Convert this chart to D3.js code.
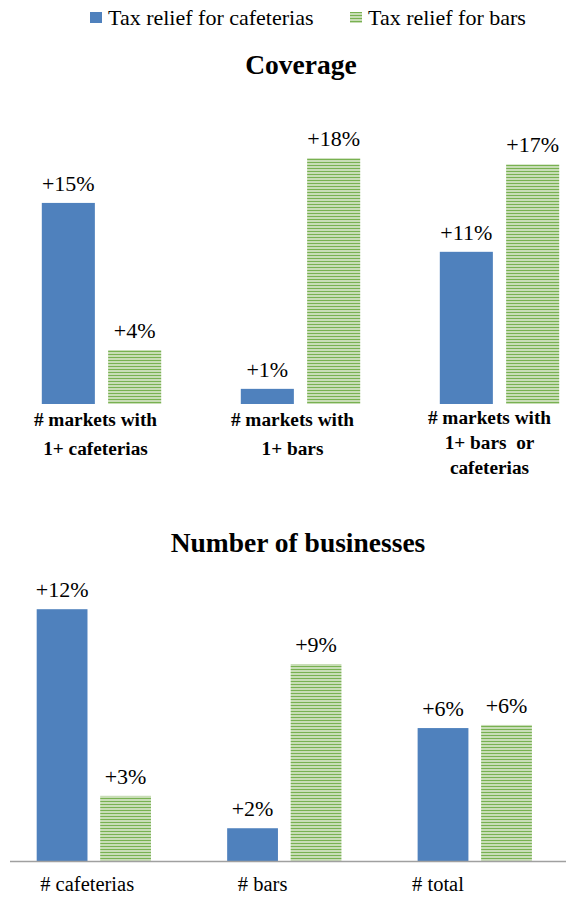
<!DOCTYPE html>
<html>
<head>
<meta charset="utf-8">
<script src="https://cdn.jsdelivr.net/npm/d3@7"></script>
<style>
  html, body { margin: 0; padding: 0; background: #fff; }
  svg text { font-family: "Liberation Serif", "Times New Roman", "DejaVu Serif", serif !important; }
</style>
</head>
<body>
<svg id="chart" width="566" height="899"></svg>
<script>
// Series shown in both panels
const series = ["Tax relief for cafeterias", "Tax relief for bars"];

// Panel 1: coverage (percent change)
const coverageTitle = "Coverage";
const coverageCategories = ["markets-cafe", "markets-bars", "markets-any"];
const coverageLabels = [
  ["# markets with", "1+ cafeterias"],
  ["# markets with", "1+ bars"],
  ["# markets with", "1+ bars  or", "cafeterias"]
];
const coverageCafeterias = [14.6, 1.1, 11.05];
const coverageBars = [3.92, 17.85, 17.4];

// Panel 2: number of businesses (percent change)
const businessTitle = "Number of businesses";
const businessCategories = ["# cafeterias", "# bars", "# total"];
const businessCafeterias = [11.99, 1.56, 6.33];
const businessBars = [3.1, 9.38, 6.48];

const blue = "#4f81bd";
const serif = '"Liberation Serif", "Times New Roman", serif';
const svg = d3.select("#chart");
const fmt = v => "+" + Math.round(v) + "%";

// Horizontal-stripe fill for the second series
const defs = svg.append("defs");
const pat = defs.append("pattern")
  .attr("id", "hstripe")
  .attr("patternUnits", "userSpaceOnUse")
  .attr("width", 6).attr("height", 3);
pat.append("rect").attr("width", 6).attr("height", 3).attr("fill", "#c8ddb6");
pat.append("rect").attr("width", 6).attr("height", 1).attr("fill", "#78b151");

const fills = [blue, "url(#hstripe)"];

// Legend
const legendX = [90, 350];
const legend = svg.append("g").attr("class", "legend");
series.forEach((s, i) => {
  const g = legend.append("g").attr("transform", `translate(${legendX[i]},0)`);
  g.append("rect").attr("x", 0).attr("y", 12).attr("width", 12).attr("height", 11).attr("fill", fills[i]);
  g.append("text").attr("x", 18).attr("y", 25)
    .style("font-family", serif)
    .attr("font-size", 22).attr("fill", "#000").text(s);
});

function panel(opts) {
  const { title, titleY, categories, values, xRange, yDomain, yRange, showAxis, labelFn } = opts;
  const g = svg.append("g");

  const x0 = d3.scaleBand().domain(categories).range(xRange).paddingInner(0.4).paddingOuter(0.2);
  const x1 = d3.scaleBand().domain(series).range([0, x0.bandwidth()]).paddingInner(0.2);
  const y = d3.scaleLinear().domain(yDomain).range(yRange);

  g.append("text")
    .attr("x", opts.titleX).attr("y", titleY)
    .attr("text-anchor", "middle")
    .style("font-family", serif)
    .attr("font-size", 27.5).attr("font-weight", "bold")
    .text(title);

  const rows = categories.map((c, i) => ({ cat: c, vals: series.map((s, j) => ({ s, j, v: values[j][i] })) }));

  const grp = g.selectAll("g.grp").data(rows).join("g")
    .attr("class", "grp")
    .attr("transform", d => `translate(${x0(d.cat)},0)`);

  grp.selectAll("rect").data(d => d.vals).join("rect")
    .attr("x", d => x1(d.s))
    .attr("y", d => y(d.v))
    .attr("width", x1.bandwidth())
    .attr("height", d => y(0) - y(d.v))
    .attr("fill", d => fills[d.j]);

  grp.selectAll("text.val").data(d => d.vals).join("text")
    .attr("class", "val")
    .attr("x", d => x1(d.s) + x1.bandwidth() / 2)
    .attr("y", d => y(d.v) - 12)
    .attr("text-anchor", "middle")
    .style("font-family", serif)
    .attr("font-size", 22)
    .text(d => fmt(d.v));

  if (showAxis) {
    g.append("line")
      .attr("x1", 10).attr("x2", 566)
      .attr("y1", y(0) + 0.5).attr("y2", y(0) + 0.5)
      .attr("stroke", "#a0a0a0").attr("stroke-width", 1.5);
  }

  labelFn(g, x0, y);
}

// Coverage panel
panel({
  title: coverageTitle, titleX: 301, titleY: 74,
  categories: coverageCategories,
  values: [coverageCafeterias, coverageBars],
  xRange: [2, 599],
  yDomain: [0, 22], yRange: [404, 101],
  showAxis: false,
  labelFn: (g, x0, y) => {
    coverageCategories.forEach((c, i) => {
      const lines = coverageLabels[i];
      const step = lines.length > 2 ? 25 : 29;
      const top = lines.length > 2 ? 424 : 426;
      const t = g.append("text")
        .attr("text-anchor", "middle")
        .style("font-family", serif)
        .attr("font-size", 19.3).attr("font-weight", "bold")
        .attr("xml:space", "preserve")
        .style("white-space", "pre");
      lines.forEach((ln, k) => {
        t.append("tspan")
          .attr("x", x0(c) + x0.bandwidth() / 2 - 6 - i * 2)
          .attr("y", top + k * step)
          .text(ln);
      });
    });
  }
});

// Number of businesses panel
panel({
  title: businessTitle, titleX: 298, titleY: 552,
  categories: businessCategories,
  values: [businessCafeterias, businessBars],
  xRange: [-1.4, 570],
  yDomain: [0, 14], yRange: [861, 567],
  showAxis: true,
  labelFn: (g, x0, y) => {
    // category names sit on their own evenly spaced points
    const xl = d3.scalePoint().domain(businessCategories).range([86.7, 437.5]);
    const axis = d3.axisBottom(xl).tickSize(0).tickPadding(0);
    const ax = g.append("g").attr("transform", `translate(0,${y(0) + 26})`).call(axis);
    ax.attr("font-family", null);
    ax.select(".domain").remove();
    ax.selectAll("text")
      .style("font-family", serif)
      .attr("font-size", 20.5).attr("fill", "#000")
      .attr("dy", "0.2em");
  }
});
</script>
</body>
</html>
